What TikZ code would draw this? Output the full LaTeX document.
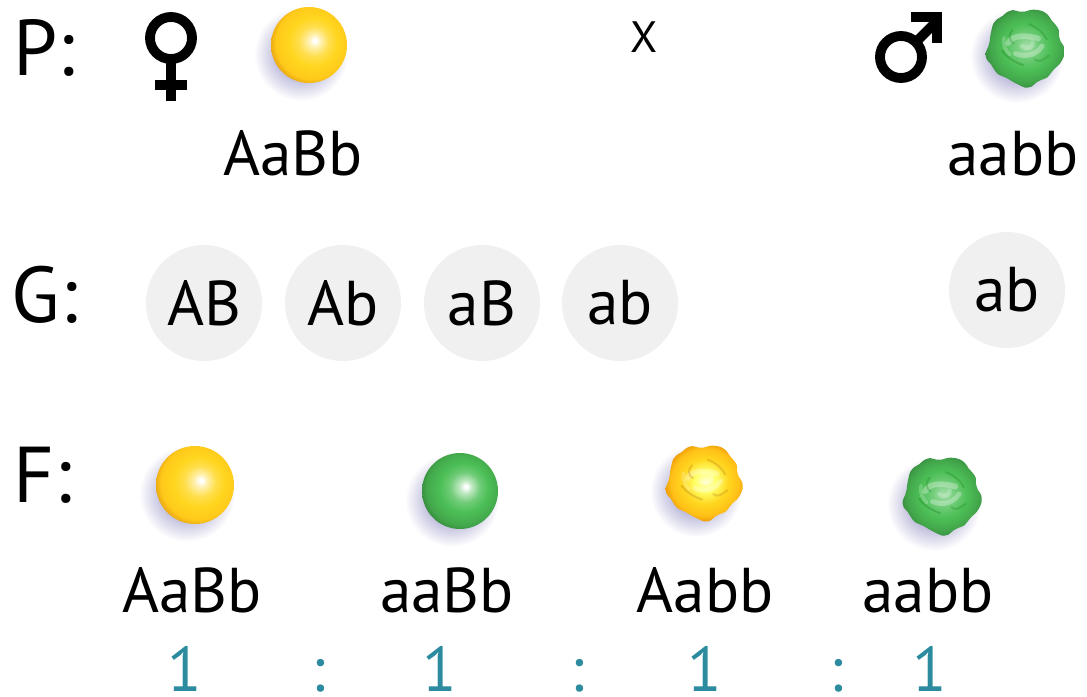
\documentclass[tikz,border=0pt]{standalone}
\usepackage{fontspec}
\setmainfont{PT Sans}
\usepackage{tikz}
\definecolor{peayellow}{HTML}{FFD61F}
\definecolor{peagreen}{HTML}{4CBF56}
\definecolor{peashade}{HTML}{B4B2D6}
\definecolor{gamgray}{HTML}{F0F0F0}
\definecolor{ratioteal}{HTML}{2D8BA0}

\pgfdeclareradialshading{peashadow}{\pgfpoint{0bp}{0bp}}{color(0bp)=(peashade); color(11bp)=(peashade); color(25bp)=(white); color(50bp)=(white)}
\pgfdeclareradialshading{yellowsmooth}{\pgfpoint{4bp}{3bp}}{color(0bp)=(white); color(1bp)=(white); color(4bp)=(peayellow!35!white); color(10bp)=(peayellow!80!white); color(16bp)=(peayellow); color(24bp)=(peayellow!85!orange); color(28bp)=(peayellow!60!orange!90!black); color(50bp)=(peayellow!60!orange!90!black)}
\pgfdeclareradialshading{greensmooth}{\pgfpoint{4bp}{3bp}}{color(0bp)=(white); color(1bp)=(white); color(4bp)=(peagreen!35!white); color(10bp)=(peagreen!80!white); color(16bp)=(peagreen); color(24bp)=(peagreen!88!black); color(28bp)=(peagreen!72!black); color(50bp)=(peagreen!72!black)}
\pgfdeclareradialshading{yellowwrinkled}{\pgfpoint{1bp}{2bp}}{color(0bp)=(yellow!20!white); color(7bp)=(yellow!60!white); color(15bp)=(peayellow); color(22bp)=(peayellow!75!orange); color(28bp)=(orange!80!yellow!90!black); color(50bp)=(orange!80!yellow!90!black)}
\pgfdeclareradialshading{greenwrinkled}{\pgfpoint{1bp}{2bp}}{color(0bp)=(peagreen!50!white); color(7bp)=(peagreen!78!white); color(15bp)=(peagreen); color(22bp)=(peagreen!88!black); color(28bp)=(peagreen!70!black); color(50bp)=(peagreen!70!black)}

\tikzset{
  rowlabel/.style={font=\fontsize{22.5}{26}\selectfont, anchor=base west, inner sep=0pt},
  geno/.style={font=\fontsize{18}{21}\selectfont, anchor=base, inner sep=0pt},
  gamete/.style={circle, fill=gamgray, minimum size=1.16cm, inner sep=0pt, font=\fontsize{18}{21}\selectfont},
  ratio/.style={font=\fontsize{18}{20}\selectfont, text=ratioteal, anchor=base, inner sep=0pt},
  sexsym/.style={line width=2.8pt}
}

% smooth pea: x, y, radius (px), shading
\newcommand{\roundpea}[4]{%
  \shade[shading=peashadow] (#1-8,#2+9) circle[radius=#3*0.01cm+0.09cm];
  \shade[shading=#4] (#1,#2) circle[radius=#3*0.01cm];
}
% wrinkled pea: x, y, radius (px), shading, crease colour
\newcommand{\wrinkledpea}[5]{%
  \begin{scope}[shift={(#1,#2)}]
    \shade[shading=peashadow] (-8,9) circle[radius=#3*0.01cm+0.09cm];
    \shade[shading=#4] plot[smooth cycle, samples=40, domain=0:351]
      (\x:{#3*(1+0.045*sin(5*\x+20)+0.025*sin(9*\x)+0.015*cos(13*\x))});
    \begin{scope}[scale=#3/40, line cap=round]
      \draw[white, opacity=.3, line width=1.6pt] (-18,-4) .. controls (-12,-14) and (2,-12) .. (14,-9);
      \draw[white, opacity=.3, line width=1.4pt] (-10,7) .. controls (-2,10) and (10,11) .. (18,-1);
      \draw[white, opacity=.22, line width=1.2pt] (-3,-1) .. controls (3,4) and (9,0) .. (8,-5);
      \draw[white, opacity=.2, line width=1pt] (-22,-10) .. controls (-24,-2) and (-20,4) .. (-16,8);
      \draw[#5, opacity=.22, line width=.6pt] (-24,4) .. controls (-18,12) and (-11,16) .. (-2,19);
      \draw[#5, opacity=.2, line width=.6pt] (4,-24) .. controls (12,-21) and (18,-17) .. (23,-8);
      \draw[#5, opacity=.2, line width=.6pt] (-13,-18) .. controls (-18,-13) and (-17,-7) .. (-12,-4);
      \draw[#5, opacity=.2, line width=.6pt] (10,13) .. controls (15,17) and (20,13) .. (25,9);
    \end{scope}
  \end{scope}}

\begin{document}
\begin{tikzpicture}[x=0.01cm, y=-0.01cm]
\useasboundingbox (0,0) rectangle (1087,697);

\node[rowlabel] (lblP) at (13,75) {P:};
\node[rowlabel] (lblG) at (11,322) {G:};
\node[rowlabel] (lblF) at (13,502) {F:};

% parents
\draw[sexsym] (171,38) circle[radius=0.21cm];
\draw[sexsym] (171,63) -- (171,101);
\draw[sexsym] (155,85) -- (187,85);
\roundpea{309}{45}{38}{yellowsmooth}
\node[geno] (pAaBb) at (293,175) {AaBb};

\node[font=\fontsize{12.5}{15}\selectfont, anchor=base, inner sep=0pt] (cross) at (644,52) {X};

\draw[sexsym] (901,57) circle[radius=0.21cm];
\draw[sexsym] (918,40) -- (936,22);
\draw[sexsym, line join=miter] (911,17) -- (937,17) -- (937,43);
\wrinkledpea{1025}{47}{38}{greenwrinkled}{green!40!black}
\node[geno] (paabb) at (1013,175) {aabb};

% gametes
\node[gamete] (gAB) at (204,303) {AB};
\node[gamete] (gAb) at (343,303) {Ab};
\node[gamete] (gaB) at (482,303) {aB};
\node[gamete] (gab) at (620,303) {ab};
\node[gamete] (gmab) at (1007,290) {ab};

% offspring
\roundpea{195}{485}{39}{yellowsmooth}
\roundpea{460}{491}{38}{greensmooth}
\wrinkledpea{704}{482}{37}{yellowwrinkled}{orange!60!black}
\wrinkledpea{942}{495}{38}{greenwrinkled}{green!40!black}
\node[geno] (fAaBb) at (192,612) {AaBb};
\node[geno] (faaBb) at (447,612) {aaBb};
\node[geno] (fAabb) at (705,612) {Aabb};
\node[geno] (faabb) at (928,612) {aabb};

\node[ratio] (r1) at (185,691) {1};
\node[ratio] (c1) at (318,691) {:};
\node[ratio] (r2) at (440,691) {1};
\node[ratio] (c2) at (577,691) {:};
\node[ratio] (r3) at (705,691) {1};
\node[ratio] (c3) at (836,691) {:};
\node[ratio] (r4) at (930,691) {1};
\end{tikzpicture}
\end{document}
